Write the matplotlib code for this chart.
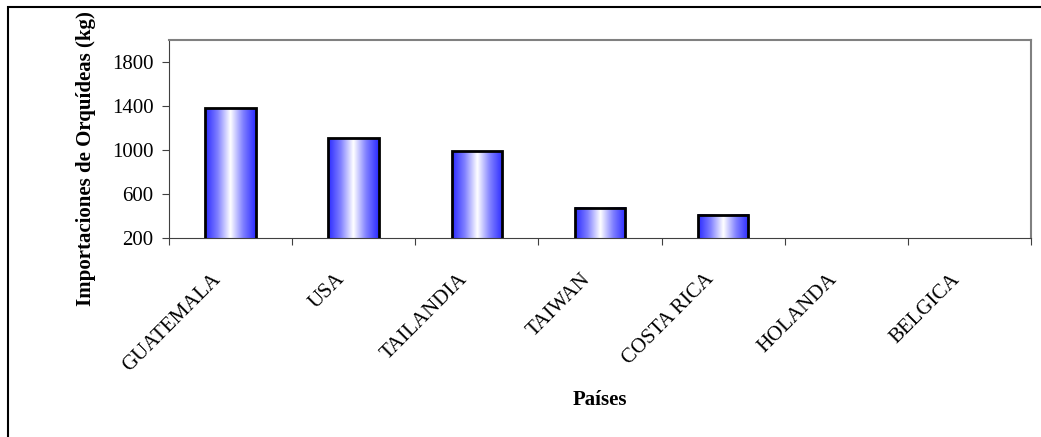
import numpy as np
import matplotlib.pyplot as plt
from matplotlib.colors import LinearSegmentedColormap
from matplotlib.patches import Rectangle
from matplotlib.transforms import ScaledTranslation

# datos
paises = ['GUATEMALA', 'USA', 'TAILANDIA', 'TAIWAN', 'COSTA RICA', 'HOLANDA', 'BELGICA']
importaciones = [1380, 1105, 990, 475, 410, 120, 60]
y_ticks = [200, 600, 1000, 1400, 1800]

plt.rcParams['font.family'] = ['Liberation Serif', 'DejaVu Serif']
plt.rcParams['font.size'] = 15

fig = plt.figure(figsize=(10.41, 4.37), dpi=100)
ax = fig.add_axes([169 / 1041, 1 - 238 / 437, 862 / 1041, 198 / 437])

# degradado azul-blanco-azul para cada barra
cmap = LinearSegmentedColormap.from_list('azul', ['#2a2aff', '#8080ff', '#ffffff', '#8080ff', '#2a2aff'])
grad = np.linspace(0, 1, 256).reshape(1, -1)

x = np.arange(len(paises))
ancho = 0.41
ymin, ymax = 200, 2000
for xi, v in zip(x, importaciones):
    if v <= ymin:
        continue
    ax.imshow(grad, cmap=cmap, aspect='auto', interpolation='bilinear',
              extent=(xi - ancho / 2, xi + ancho / 2, ymin, v), zorder=2)
ax.bar(x, importaciones, width=ancho, bottom=0, facecolor='none',
       edgecolor='black', linewidth=2, zorder=3)

ax.set_xlim(-0.5, len(paises) - 0.5)
ax.set_ylim(ymin, ymax)
ax.set_yticks(y_ticks)
ax.set_xticks(np.arange(len(paises) + 1) - 0.5, minor=False)
ax.set_xticklabels([])
ax.set_xticks(x, minor=True)
ax.set_xticklabels(paises, minor=True, rotation=45, ha='right', rotation_mode='anchor')
ax.tick_params(axis='x', which='minor', length=0, pad=23)
ax.tick_params(axis='x', which='major', direction='out', length=5, color='#404040')
ax.tick_params(axis='y', direction='out', length=5, color='#404040', pad=6)

# desplazar etiquetas del eje x un poco a la izquierda
desplaz = ScaledTranslation(-19 / 100, 0, fig.dpi_scale_trans)
for lbl in ax.get_xticklabels(minor=True):
    lbl.set_transform(lbl.get_transform() + desplaz)

for s in ['top', 'right']:
    ax.spines[s].set_color('#808080')
    ax.spines[s].set_linewidth(1.5)
ax.spines['left'].set_color('#404040')
ax.spines['bottom'].set_color('#404040')

ax.set_ylabel('Importaciones de Orquídeas (kg)', fontweight='bold')
ax.yaxis.set_label_coords((96 - 169) / 862, 0.40)
fig.text(600 / 1041, 1 - 400 / 437, 'Países', fontweight='bold', ha='center', va='center')

# marco exterior
fig.patches.append(Rectangle((8 / 1041, -0.1), 1.2, 1 - 7 / 437 + 0.1,
                             transform=fig.transFigure, fill=False,
                             edgecolor='black', linewidth=1.5))

fig.savefig('out.png', dpi=100)
